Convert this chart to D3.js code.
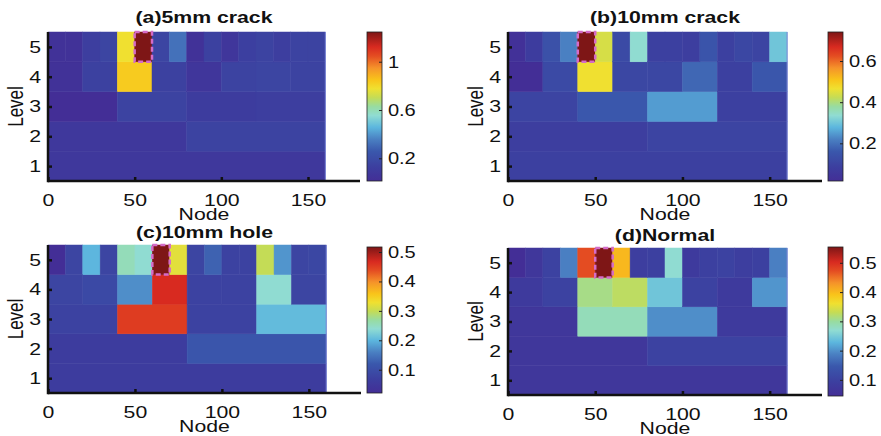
<!DOCTYPE html>
<html>
<head>
<meta charset="utf-8">
<script src="https://cdn.jsdelivr.net/npm/d3@7"></script>
<style>
  body { margin: 0; background: #fff; }
</style>
</head>
<body>
<div id="chart"></div>
<script>
// Wavelet packet node energy, one row per decomposition level (level 1 first).
// Level L has 2^(L-1) nodes spread across node index 0..160.
const levels = [1, 2, 3, 4, 5];
const xTickValues = [0, 50, 100, 150];
const panelTitles = ["(a)5mm crack", "(b)10mm crack", "(c)10mm hole", "(d)Normal"];

const crack5mm = [
  [0.08],
  [0.08, 0.15],
  [0.012, 0.15, 0.11, 0.12],
  [0.04, 0.14, 0.833, 0.14, 0.07, 0.15, 0.16, 0.15],
  [0.04, 0.04, 0.12, 0.16, 0.777, 1.246, 0.16, 0.32, 0.04, 0.14, 0.07, 0.13, 0.15, 0.12, 0.15, 0.15]
];
const crack10mm = [
  [0.09],
  [0.08, 0.1],
  [0.1, 0.16, 0.25, 0.09],
  [0.017, 0.12, 0.466, 0.11, 0.11, 0.183, 0.09, 0.155],
  [0.03, 0.075, 0.14, 0.22, 0.741, 0.44, 0.12, 0.336, 0.09, 0.09, 0.08, 0.15, 0.09, 0.11, 0.1, 0.30]
];
const hole10mm = [
  [0.06],
  [0.06, 0.115],
  [0.075, 0.452, 0.075, 0.205],
  [0.08, 0.09, 0.17, 0.467, 0.075, 0.075, 0.239, 0.08],
  [0.021, 0.08, 0.2, 0.08, 0.254, 0.239, 0.517, 0.319, 0.08, 0.13, 0.075, 0.075, 0.299, 0.175, 0.08, 0.085]
];
const normal = [
  [0.07],
  [0.07, 0.1],
  [0.07, 0.284, 0.198, 0.08],
  [0.08, 0.1, 0.31, 0.325, 0.244, 0.1, 0.08, 0.203],
  [0.045, 0.07, 0.1, 0.187, 0.473, 0.554, 0.401, 0.09, 0.095, 0.269, 0.08, 0.095, 0.1, 0.09, 0.095, 0.187]
];
const colorbarTicks = [
  [0.2, 0.6, 1],
  [0.2, 0.4, 0.6],
  [0.1, 0.2, 0.3, 0.4, 0.5],
  [0.1, 0.2, 0.3, 0.4, 0.5]
];
const panelData = [crack5mm, crack10mm, hole10mm, normal];

const W = 881, H = 436;
const NODE_SPAN = 160;
const FONT = "'Liberation Sans', Arial, Helvetica, sans-serif";
const STRETCH = 1.25;     // the source picture is stretched sideways
const CB_STRETCH = 1.18;

// washed-out jet, as in the figure
const cmapT = [0, 0.1, 0.2, 0.28, 0.36, 0.44, 0.5, 0.56, 0.62, 0.68, 0.76, 0.84, 0.9, 1];
const cmapC = ["#432e96", "#3c40a0", "#3a58ac", "#4a80c2", "#5cb6de", "#90dcd2", "#98dca0",
               "#c4dc56", "#f0e030", "#f9c41a", "#f5922a", "#e44c22", "#d82a20", "#7e1616"];
const cmap = d3.scaleLinear().domain(cmapT).range(cmapC).interpolate(d3.interpolateRgb).clamp(true);

// pixel boxes of each panel
const layout = [
  { left: 48,  right: 360, top: 32,  bottom: 181, cbX: 367, cbTop: 32,  cbBottom: 181, titleY: 23 },
  { left: 508, right: 822, top: 32,  bottom: 181, cbX: 828, cbTop: 32,  cbBottom: 181, titleY: 23 },
  { left: 48,  right: 361, top: 245, bottom: 393, cbX: 367, cbTop: 247, cbBottom: 393, titleY: 238 },
  { left: 508, right: 822, top: 248, bottom: 395, cbX: 828, cbTop: 247, cbBottom: 396, titleY: 241 }
];
const CB_W = 15;

const svg = d3.select("#chart").append("svg")
  .attr("width", W)
  .attr("height", H)
  .style("font-family", FONT);

// one shared gradient for the colorbars (domain = data extent in every panel)
const grad = svg.append("defs").append("linearGradient")
  .attr("id", "cbgrad")
  .attr("x1", 0).attr("y1", 1).attr("x2", 0).attr("y2", 0);
grad.selectAll("stop")
  .data(d3.range(0, 1.0001, 0.02))
  .join("stop")
  .attr("offset", d => d)
  .attr("stop-color", d => cmap(d));

function drawPanel(data, title, cbTicks, box) {
  const g = svg.append("g");
  const x = d3.scaleLinear().domain([0, 180]).range([box.left, box.right]);
  const y = d3.scaleLinear().domain([0.5, 5.5]).range([box.bottom, box.top]);

  const all = data.flat();
  const extent = d3.extent(all);
  const norm = d3.scaleLinear().domain(extent).range([0, 1]);
  const color = v => cmap(norm(v));

  // cells
  const cells = [];
  data.forEach((row, li) => {
    const w = NODE_SPAN / row.length;
    row.forEach((v, i) => cells.push({ level: levels[li], x0: i * w, x1: (i + 1) * w, v }));
  });
  g.append("g")
    .selectAll("rect")
    .data(cells)
    .join("rect")
    .attr("x", d => x(d.x0))
    .attr("y", d => y(d.level + 0.5))
    .attr("width", d => x(d.x1) - x(d.x0))
    .attr("height", d => y(d.level - 0.5) - y(d.level + 0.5))
    .attr("fill", d => color(d.v))
    .attr("stroke", d => color(d.v))
    .attr("stroke-width", 0.5);

  // faint light edge at the end of the data
  g.append("line")
    .attr("x1", x(NODE_SPAN)).attr("x2", x(NODE_SPAN))
    .attr("y1", box.top).attr("y2", box.bottom)
    .attr("stroke", "#7b86d6").attr("stroke-width", 1);

  // dashed box on the largest level-5 node
  const top = cells.filter(c => c.level === 5).reduce((a, b) => (b.v > a.v ? b : a));
  g.append("rect")
    .attr("x", x(top.x0))
    .attr("y", y(top.level + 0.5))
    .attr("width", x(top.x1) - x(top.x0))
    .attr("height", y(top.level - 0.5) - y(top.level + 0.5))
    .attr("fill", "none")
    .attr("stroke", "#d46cc8")
    .attr("stroke-width", 2.5)
    .attr("stroke-dasharray", "5,3");

  // axes
  const xAxis = g.append("g")
    .attr("transform", `translate(0,${box.bottom})`)
    .call(d3.axisBottom(x).tickValues(xTickValues).tickFormat(d => String(d))
      .tickSize(-4).tickPadding(13).tickSizeOuter(0));
  const yAxis = g.append("g")
    .attr("transform", `translate(${box.left},0)`)
    .call(d3.axisLeft(y).tickValues(levels).tickFormat(d => String(d))
      .tickSize(-4).tickPadding(5.6).tickSizeOuter(0));
  [xAxis, yAxis].forEach(a => {
    a.select(".domain").remove();
    a.selectAll(".tick line").attr("stroke", "#111").attr("stroke-width", 2.5);
    a.selectAll(".tick text")
      .attr("font-family", FONT)
      .attr("font-size", 17)
      .attr("fill", "#111")
      .attr("transform", `scale(${STRETCH},1)`);
  });
  g.append("line")
    .attr("x1", box.left).attr("x2", box.left)
    .attr("y1", box.top).attr("y2", box.bottom + 1.25)
    .attr("stroke", "#111").attr("stroke-width", 2.5);
  g.append("line")
    .attr("x1", box.left).attr("x2", box.right)
    .attr("y1", box.bottom).attr("y2", box.bottom)
    .attr("stroke", "#111").attr("stroke-width", 2.5);

  // labels
  const cx = (box.left + box.right) / 2;
  g.append("text")
    .attr("transform", `translate(${cx},${box.titleY}) scale(${STRETCH},1)`)
    .attr("text-anchor", "middle")
    .attr("font-weight", "bold")
    .attr("font-size", 17)
    .attr("fill", "#111")
    .text(title);
  g.append("text")
    .attr("transform", `translate(${cx},${box.bottom + 39}) scale(${STRETCH},1)`)
    .attr("text-anchor", "middle")
    .attr("font-size", 17)
    .attr("fill", "#111")
    .text("Node");
  g.append("text")
    .attr("transform", `translate(${box.left - 25},${(box.top + box.bottom) / 2}) scale(${STRETCH},1) rotate(-90)`)
    .attr("text-anchor", "middle")
    .attr("font-size", 17)
    .attr("fill", "#111")
    .text("Level");

  // colorbar
  const cb = g.append("g");
  const cy = d3.scaleLinear().domain(extent).range([box.cbBottom, box.cbTop]);
  cb.append("rect")
    .attr("x", box.cbX).attr("y", box.cbTop)
    .attr("width", CB_W).attr("height", box.cbBottom - box.cbTop)
    .attr("fill", "url(#cbgrad)")
    .attr("stroke", "#222").attr("stroke-width", 0.8);
  const cbAxis = cb.append("g")
    .attr("transform", `translate(${box.cbX + CB_W},0)`)
    .call(d3.axisRight(cy).tickValues(cbTicks).tickFormat(d => String(d))
      .tickSize(-3).tickPadding(5).tickSizeOuter(0));
  cbAxis.select(".domain").remove();
  cbAxis.selectAll(".tick line").attr("stroke", "#222").attr("stroke-width", 1);
  cbAxis.selectAll(".tick text")
    .attr("font-family", FONT)
    .attr("font-size", 17)
    .attr("fill", "#111")
    .attr("transform", `scale(${CB_STRETCH},1)`);
}

panelData.forEach((d, i) => drawPanel(d, panelTitles[i], colorbarTicks[i], layout[i]));
</script>
</body>
</html>
